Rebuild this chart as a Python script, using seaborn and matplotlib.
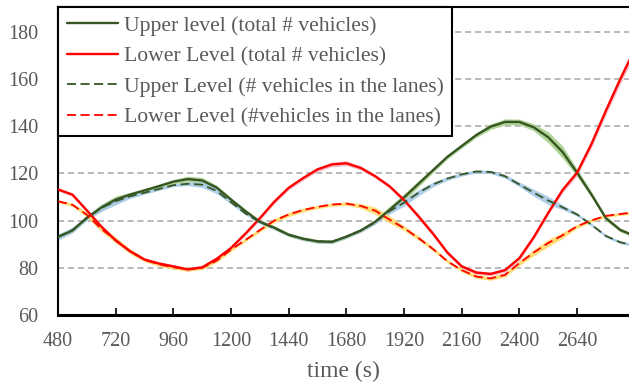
import matplotlib
matplotlib.use("Agg")
import matplotlib.pyplot as plt
import seaborn as sns
import numpy as np
import pandas as pd

times = [480, 540, 600, 660, 720, 780, 840, 900, 960, 1020, 1080, 1140, 1200, 1260,
         1320, 1380, 1440, 1500, 1560, 1620, 1680, 1740, 1800, 1860, 1920, 1980,
         2040, 2100, 2160, 2220, 2280, 2340, 2400, 2460, 2520, 2580, 2640, 2700,
         2760, 2820, 2880]

upper_total = [93.1, 95.8, 101.2, 105.5, 108.9, 111.0, 112.8, 114.6, 116.5, 117.6, 117.0,
               114.0, 108.9, 104.0, 99.5, 97.0, 94.0, 92.3, 91.2, 91.0, 93.2, 95.8, 99.5,
               104.6, 109.8, 115.6, 121.3, 127.0, 131.6, 136.2, 139.8, 141.8, 141.8, 139.5,
               135.3, 129.0, 120.3, 111.0, 101.0, 96.0, 93.5]
lower_total = [113.2, 111.0, 104.3, 97.5, 91.6, 87.0, 83.5, 81.8, 80.6, 79.3, 80.2, 83.8,
               88.4, 94.5, 101.0, 108.0, 113.9, 118.0, 121.7, 123.8, 124.3, 122.3, 118.8,
               114.5, 108.7, 101.8, 94.5, 86.5, 80.6, 78.0, 77.4, 79.0, 84.1, 93.0, 103.3,
               113.0, 120.3, 132.5, 146.6, 160.0, 172.5]
upper_lanes = [93.0, 96.0, 101.0, 105.3, 108.2, 110.3, 111.8, 113.4, 115.0, 115.6, 115.2,
               112.6, 107.8, 103.0, 99.3, 96.8, 94.0, 92.3, 91.2, 91.0, 93.2, 95.8, 99.3,
               104.0, 107.6, 111.8, 115.3, 117.8, 119.6, 120.8, 120.6, 118.8, 115.3, 111.8,
               108.5, 105.6, 102.6, 98.2, 93.5, 90.8, 89.5]
lower_lanes = [108.2, 106.7, 102.5, 96.5, 91.8, 87.0, 83.4, 81.5, 80.2, 79.4, 80.0, 83.0,
               87.7, 91.8, 96.0, 100.0, 102.6, 104.5, 105.8, 106.8, 107.2, 106.2, 104.2,
               100.4, 96.8, 92.6, 88.0, 82.8, 79.0, 76.3, 75.5, 77.0, 82.0, 86.5, 90.5,
               93.8, 97.6, 100.1, 102.0, 102.8, 103.5]

# half-widths of the shaded bands
upper_total_hw = [0.8, 0.8, 0.9, 1.5, 1.5, 1.0, 0.8, 0.8, 0.9, 1.2, 1.3, 1.0, 0.8, 0.8,
                  0.8, 0.8, 0.8, 0.8, 0.8, 0.8, 0.8, 0.8, 1.0, 1.5, 1.6, 1.3, 1.0, 0.9,
                  0.9, 1.0, 1.2, 1.3, 1.2, 1.5, 2.4, 2.6, 1.6, 1.2, 1.0, 0.8, 0.8]
lower_total_hw = [0.7, 0.7, 0.8, 0.8, 0.8, 0.8, 0.8, 0.8, 0.8, 0.8, 0.8, 0.8, 0.8, 0.8,
                  0.8, 0.9, 0.9, 0.9, 0.9, 1.0, 1.0, 0.9, 0.8, 0.8, 0.9, 1.0, 1.0, 0.9,
                  0.8, 0.8, 0.8, 0.9, 1.0, 1.0, 1.0, 1.1, 1.3, 1.6, 1.8, 2.0, 2.2]
upper_lanes_hw = [1.3, 1.2, 0.8, 1.4, 1.5, 0.9, 0.6, 0.6, 0.6, 0.8, 1.2, 1.2, 0.8, 0.6,
                  0.6, 0.6, 0.6, 0.6, 0.6, 0.6, 0.6, 0.6, 0.8, 1.2, 1.4, 1.3, 1.0, 0.8,
                  0.7, 0.7, 0.7, 0.8, 1.0, 1.5, 1.7, 1.0, 0.7, 0.6, 0.6, 0.6, 0.6]
lower_lanes_hw = [0.6, 0.7, 1.0, 1.2, 1.2, 1.0, 0.8, 0.8, 0.8, 0.8, 0.7, 0.7, 0.7, 0.7,
                  0.8, 0.9, 0.9, 0.8, 0.7, 0.7, 0.7, 1.0, 1.5, 1.5, 1.0, 0.9, 0.8, 0.7,
                  0.7, 0.8, 0.8, 0.9, 1.0, 1.3, 1.5, 1.2, 0.8, 0.7, 0.6, 0.6, 0.6]

labels = ["Upper level (total # vehicles)", "Lower Level (total # vehicles)",
          "Upper Level (# vehicles in the lanes)", "Lower Level (#vehicles in the lanes)"]
y_ticks = [60, 80, 100, 120, 140, 160, 180]
x_ticks = [480, 720, 960, 1200, 1440, 1680, 1920, 2160, 2400, 2640]

sns.set_theme(style="white")
plt.rcParams['font.family'] = ['Liberation Serif', 'DejaVu Serif']
text_color = "#595959"

fig = plt.figure(figsize=(6.29, 3.84), dpi=100)
ax = fig.add_axes([58 / 629, 69 / 384, 1 - 58 / 629, (315 - 7) / 384])

green = "#375623"
red = "#FF0000"
series = [
    (upper_total, upper_total_hw, green, "-", "#A9D18E", 1.7),
    (lower_total, lower_total_hw, red, "-", "#F4B8C4", 1.7),
    (upper_lanes, upper_lanes_hw, green, (0, (5, 2.5)), "#A7C9E8", 1.3),
    (lower_lanes, lower_lanes_hw, red, (0, (5, 2.5)), "#FFD966", 1.3),
]

for (vals, hw, col, ls, bcol, lw), lab in zip(series, labels):
    v = np.array(vals)
    h = np.array(hw)
    ax.fill_between(times, v - h, v + h, color=bcol, alpha=0.9, lw=0, zorder=2)

for (vals, hw, col, ls, bcol, lw), lab in zip(series, labels):
    df = pd.DataFrame({"time": times, "value": vals})
    sns.lineplot(data=df, x="time", y="value", ax=ax, color=col, linestyle=ls,
                 linewidth=lw, label=lab, zorder=3)

ax.set_xlim(480, 2856)
ax.set_ylim(60, 190.5)
ax.set_xticks(x_ticks)
ax.set_yticks(y_ticks)
ax.set_xticklabels([str(t) for t in x_ticks])
ax.set_yticklabels([str(t) for t in y_ticks])

for y in y_ticks[1:]:
    ax.axhline(y, color="#A6A6A6", linestyle=(0, (4, 2.5)), linewidth=1.1, zorder=1)

ax.tick_params(axis="x", direction="in", length=5, width=1.2, color="black",
               labelsize=14.5, labelcolor=text_color, pad=12, bottom=True)
ax.tick_params(axis="y", length=0, labelsize=14.5, labelcolor=text_color, pad=14)

for side in ["left", "top"]:
    ax.spines[side].set_color("black")
    ax.spines[side].set_linewidth(1.5)
ax.spines["bottom"].set_color("black")
ax.spines["bottom"].set_linewidth(2.2)
ax.spines["right"].set_visible(False)

ax.set_xlabel("time (s)", fontsize=17, color=text_color, labelpad=7)
ax.set_ylabel("")

leg = ax.legend(loc="upper left", bbox_to_anchor=(0, 1), borderaxespad=0,
                fontsize=15.6, frameon=True, fancybox=False, framealpha=1,
                edgecolor="black", handlelength=2.35, handletextpad=0.28,
                labelspacing=0.48, borderpad=0.4)
leg.get_frame().set_linewidth(1.5)
for t in leg.get_texts():
    t.set_color(text_color)

fig.savefig("out.png", dpi=100)
